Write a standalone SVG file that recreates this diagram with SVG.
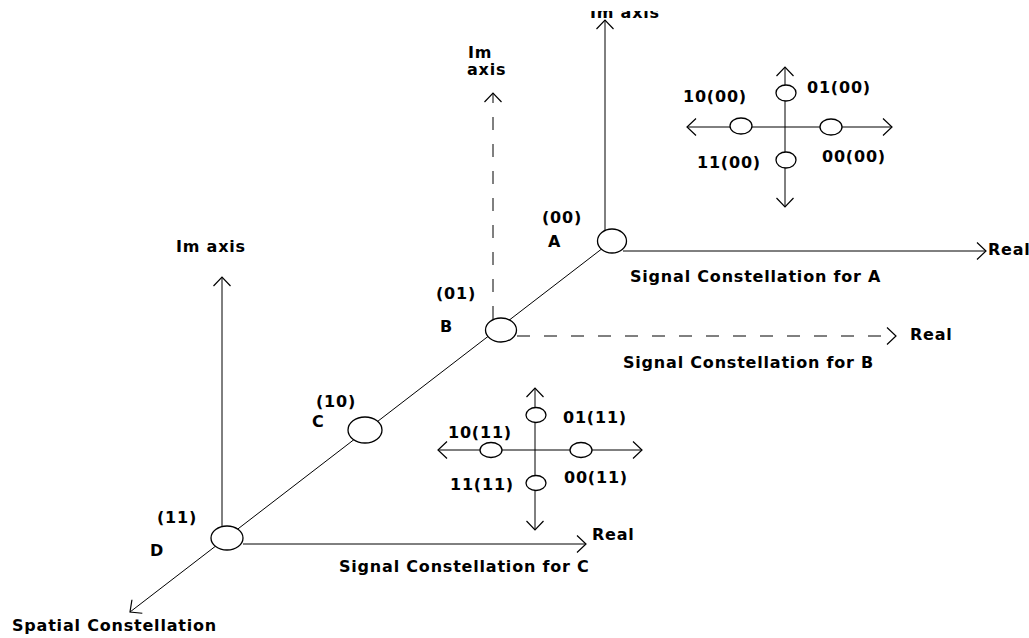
<svg xmlns="http://www.w3.org/2000/svg" width="1029" height="638" viewBox="0 0 1029 638">
<style>
.t{font-family:"DejaVu Sans","Liberation Sans",sans-serif;font-weight:bold;font-size:16px;letter-spacing:0.8px;fill:#000}
.ln{stroke:#000;stroke-width:1;fill:none}
.dash{stroke:#000;stroke-width:1;fill:none;stroke-dasharray:13 14}
.node{fill:#fff;stroke:#000;stroke-width:1.3}
.pt{fill:#fff;stroke:#000;stroke-width:1.3}
</style>
<defs>
<marker id="arr" viewBox="-11 -10 12 20" refX="0" refY="0" markerWidth="12" markerHeight="20" markerUnits="userSpaceOnUse" orient="auto-start-reverse">
<path d="M-9,-8.5 L0,0 L-9,8.5" fill="none" stroke="#000" stroke-width="1.2"/>
</marker>
<clipPath id="topclip"><rect x="0" y="11" width="1029" height="40"/></clipPath>
</defs>
<rect width="1029" height="638" fill="#fff"/>

<g id="connectors">
<line class="ln" x1="612" y1="241" x2="130" y2="612" marker-end="url(#arr)"/>
<line class="ln" x1="605" y1="230" x2="605" y2="20" marker-end="url(#arr)"/>
<line class="ln" x1="623" y1="251" x2="986" y2="251" marker-end="url(#arr)"/>
<line class="dash" x1="493" y1="319" x2="493" y2="93" marker-end="url(#arr)"/>
<line class="dash" x1="517" y1="336" x2="896" y2="336" marker-end="url(#arr)"/>
<line class="ln" x1="222" y1="527" x2="222" y2="277" marker-end="url(#arr)"/>
<line class="ln" x1="243" y1="544" x2="586" y2="544" stroke-width="2" marker-end="url(#arr)"/>
</g>

<g id="node-A">
<ellipse class="node" cx="612" cy="241" rx="14.5" ry="12"/>
<text class="t" x="542" y="223">(00)</text>
<text class="t" x="548" y="247">A</text>
<text class="t" x="590" y="18" clip-path="url(#topclip)">Im axis</text>
<text class="t" x="988" y="255">Real</text>
<text class="t" x="630" y="282">Signal Constellation for A</text>
</g>

<g id="node-B">
<ellipse class="node" cx="501" cy="330" rx="15.5" ry="12"/>
<text class="t" x="436" y="299">(01)</text>
<text class="t" x="440" y="332">B</text>
<text class="t" x="468" y="58">Im</text>
<text class="t" x="467" y="75">axis</text>
<text class="t" x="910" y="340">Real</text>
<text class="t" x="623" y="368">Signal Constellation for B</text>
</g>

<g id="node-C">
<ellipse class="node" cx="365" cy="430" rx="17" ry="13"/>
<text class="t" x="316" y="407">(10)</text>
<text class="t" x="312" y="427">C</text>
</g>

<g id="node-D">
<ellipse class="node" cx="227" cy="538" rx="16" ry="12"/>
<text class="t" x="157" y="523">(11)</text>
<text class="t" x="150" y="556">D</text>
<text class="t" x="176" y="252">Im axis</text>
<text class="t" x="592" y="540">Real</text>
<text class="t" x="339" y="572">Signal Constellation for C</text>
<text class="t" x="12" y="631">Spatial Constellation</text>
</g>

<g id="constellation-A">
<line class="ln" x1="785" y1="207" x2="785" y2="67" marker-start="url(#arr)" marker-end="url(#arr)"/>
<line class="ln" x1="687" y1="127" x2="892" y2="127" marker-start="url(#arr)" marker-end="url(#arr)"/>
<ellipse class="pt" cx="786" cy="93" rx="10" ry="8"/>
<ellipse class="pt" cx="741" cy="126" rx="11" ry="8"/>
<ellipse class="pt" cx="831" cy="127" rx="11" ry="8"/>
<ellipse class="pt" cx="786" cy="160" rx="10" ry="8"/>
<text class="t" x="807" y="93">01(00)</text>
<text class="t" x="683" y="102">10(00)</text>
<text class="t" x="697" y="168">11(00)</text>
<text class="t" x="822" y="162">00(00)</text>
</g>

<g id="constellation-C">
<line class="ln" x1="535" y1="530" x2="535" y2="388" marker-start="url(#arr)" marker-end="url(#arr)"/>
<line class="ln" x1="438" y1="450" x2="642" y2="450" marker-start="url(#arr)" marker-end="url(#arr)"/>
<ellipse class="pt" cx="536" cy="415" rx="10" ry="7.5"/>
<ellipse class="pt" cx="491" cy="450" rx="11" ry="7.5"/>
<ellipse class="pt" cx="581" cy="450" rx="11" ry="7.5"/>
<ellipse class="pt" cx="536" cy="483" rx="10" ry="7.5"/>
<text class="t" x="563" y="423">01(11)</text>
<text class="t" x="448" y="438">10(11)</text>
<text class="t" x="450" y="490">11(11)</text>
<text class="t" x="564" y="483">00(11)</text>
</g>
</svg>
